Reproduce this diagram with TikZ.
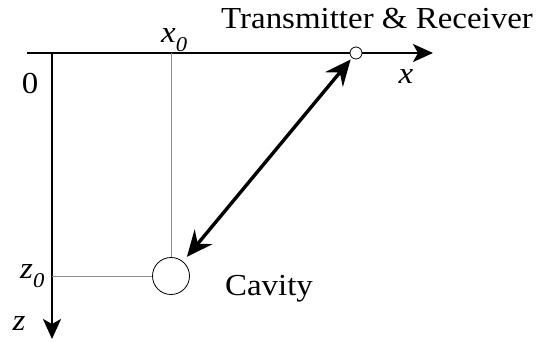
\documentclass[tikz,border=0pt]{standalone}
\usepackage{fontspec}
\setmainfont{Liberation Serif}
\newfontfamily\lblfont[FakeStretch=1.08]{Liberation Serif}
\usetikzlibrary{positioning,arrows.meta}
\tikzset{
  axis/.style={line width=2.4pt, -{Stealth[length=20pt, width=18pt, inset=5pt]}},
  guide/.style={line width=0.8pt, black!45},
  dbl/.style={line width=3.4pt, {Stealth[length=26pt, width=23pt, inset=9pt]}-{Stealth[length=26pt, width=23pt, inset=9pt]}, shorten <=2pt, shorten >=6pt},
  hole/.style={circle, draw, line width=0.8pt, fill=white, inner sep=0pt},
  lbl/.style={font=\lblfont\fontsize{30.5}{34}\selectfont, inner sep=0pt},
}
\newcommand{\subz}{\raisebox{-9pt}{\fontsize{21}{24}\selectfont\textit{0}}}

\begin{document}
\begin{tikzpicture}[x=1pt, y=1pt]
    \useasboundingbox (0,0) rectangle (540,-341);

    % axes
    \coordinate (xs) at (27,-53);
    \coordinate (xe) at (433,-53);
    \coordinate (o)  at (52,-53);
    \coordinate (ze) at (52,-339);
    \draw[axis] (xs) -- (xe);
    \draw[axis] (o) -- (ze);

    % cavity and antenna
    \node[hole, minimum size=37pt] (cav) at (171,-276) {};
    \node[hole, minimum size=12pt] (tx)  at (356,-53) {};
    \coordinate (xo) at (171,-53);
    \coordinate (zo) at (52,-276);
    \draw[guide] (xo) -- (cav.north);
    \draw[guide] (zo) -- (cav.west);
    \draw[dbl] (tx) -- (cav);

    % labels
    \node[lbl, anchor=base] (lo)        at (30,-93)   {0};
    \node[lbl, anchor=base west] (lxo)  at (161,-42)  {\textit{x}\subz};
    \node[lbl, anchor=base] (lx)        at (406,-83)  {\textit{x}};
    \node[lbl, anchor=base west] (lzo)  at (20,-278)  {\textit{z}\subz};
    \node[lbl, anchor=base] (lz)        at (19,-330)  {\textit{z}};
    \node[lbl, anchor=base] (lcav)      at (269,-295) {Cavity};
    \node[lbl, anchor=base] (ltx)       at (377,-28)  {Transmitter \& Receiver};
\end{tikzpicture}
\end{document}
